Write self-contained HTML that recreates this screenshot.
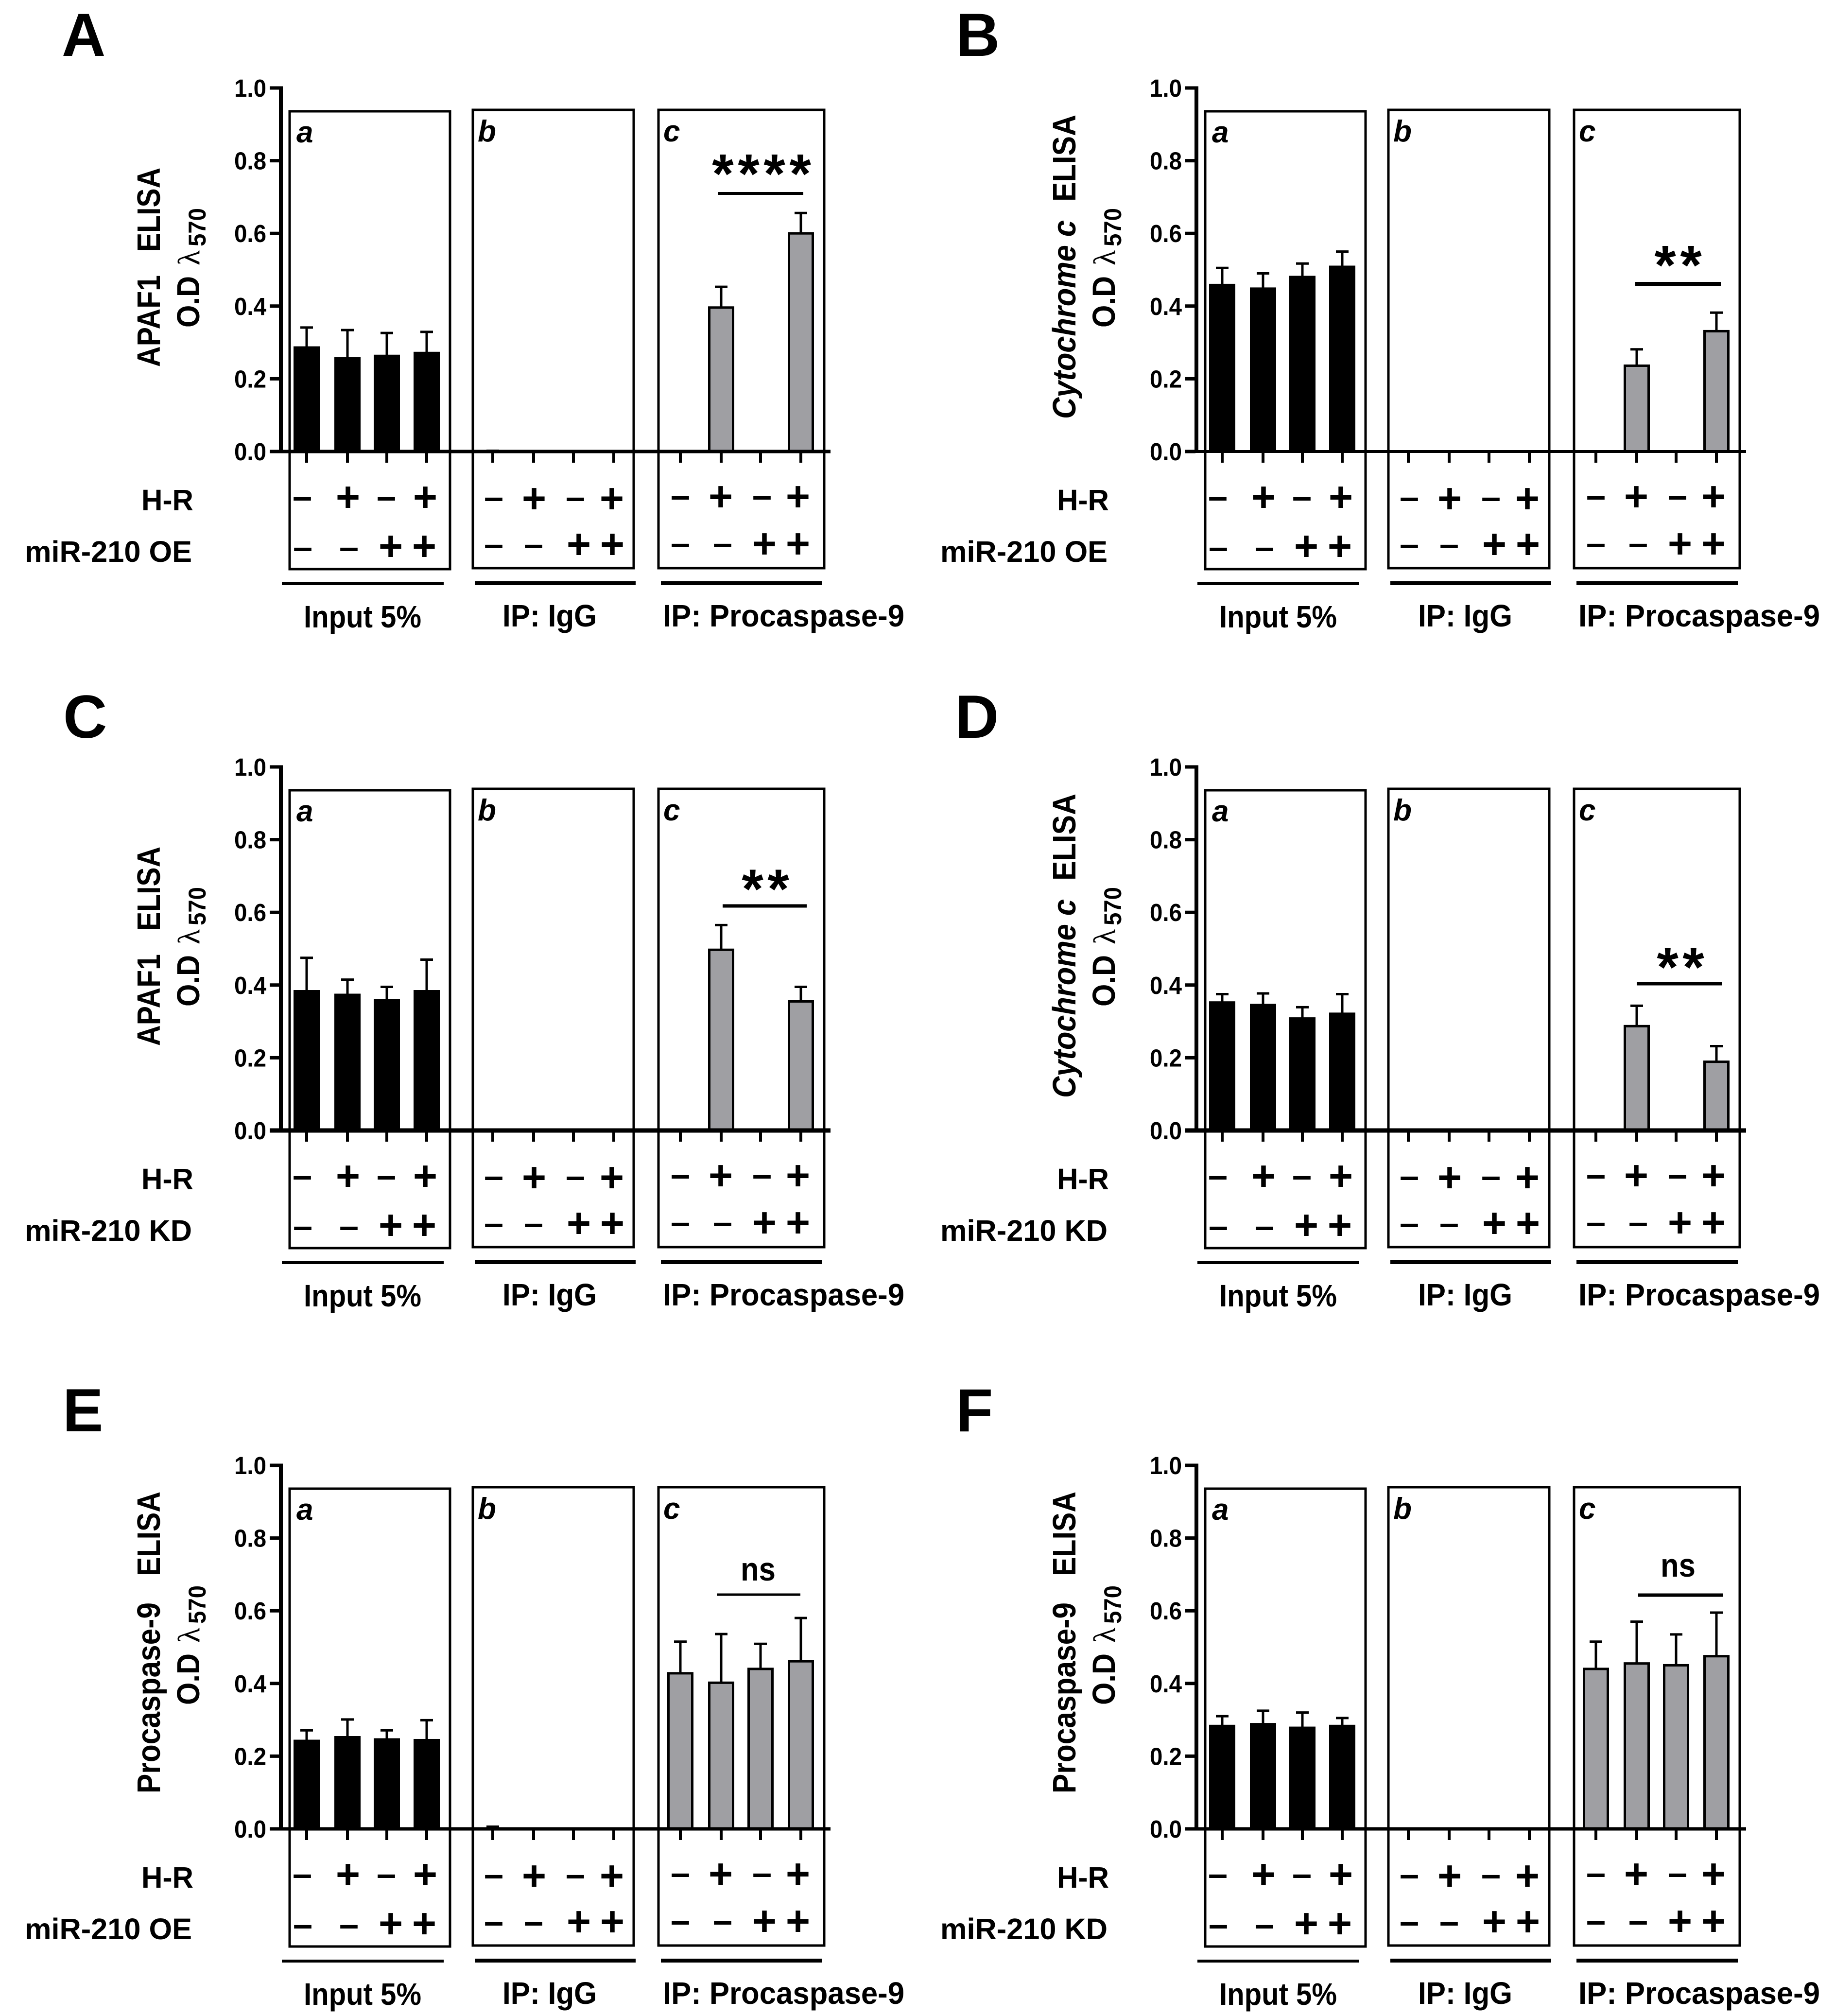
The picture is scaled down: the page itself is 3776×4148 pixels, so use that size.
<!DOCTYPE html>
<html lang="en">
<head>
<meta charset="utf-8">
<title>ELISA bar charts A–F</title>
<style>
html,body{margin:0;padding:0;background:#fff}
svg{display:block}
text{font-family:"Liberation Sans",Arial,sans-serif;fill:#000}
</style>
</head>
<body>
<svg id="figure" xmlns="http://www.w3.org/2000/svg" width="3776" height="4148" viewBox="0 0 3776 4148"></svg>
<script>
// ---- chart data ----
const yTickValues = [0, 0.2, 0.4, 0.6, 0.8, 1.0];
const groupNames = ['Input 5%', 'IP: IgG', 'IP: Procaspase-9'];
const hrSigns = ['-', '+', '-', '+'];
const mirSigns = ['-', '-', '+', '+'];

const inputMeansA = [0.288, 0.258, 0.265, 0.273];
const inputErrorsA = [0.053, 0.076, 0.061, 0.056];
const iggMeansA = [0, 0, 0, 0];
const iggErrorsA = [0.002, 0, 0, 0];
const ipMeansA = [0, 0.396, 0, 0.6];
const ipErrorsA = [0, 0.057, 0, 0.056];

const inputMeansB = [0.46, 0.45, 0.482, 0.51];
const inputErrorsB = [0.045, 0.04, 0.035, 0.04];
const iggMeansB = [0, 0, 0, 0];
const iggErrorsB = [0, 0, 0, 0];
const ipMeansB = [0, 0.236, 0, 0.331];
const ipErrorsB = [0, 0.045, 0, 0.051];

const inputMeansC = [0.385, 0.375, 0.36, 0.385];
const inputErrorsC = [0.09, 0.04, 0.035, 0.085];
const iggMeansC = [0, 0, 0, 0];
const iggErrorsC = [0, 0, 0, 0];
const ipMeansC = [0, 0.497, 0, 0.355];
const ipErrorsC = [0, 0.068, 0, 0.04];

const inputMeansD = [0.354, 0.347, 0.31, 0.323];
const inputErrorsD = [0.021, 0.03, 0.029, 0.052];
const iggMeansD = [0, 0, 0, 0];
const iggErrorsD = [0, 0, 0, 0];
const ipMeansD = [0, 0.287, 0, 0.189];
const ipErrorsD = [0, 0.056, 0, 0.043];

const inputMeansE = [0.244, 0.254, 0.248, 0.246];
const inputErrorsE = [0.027, 0.047, 0.023, 0.053];
const iggMeansE = [0, 0, 0, 0];
const iggErrorsE = [0.006, 0, 0, 0];
const ipMeansE = [0.428, 0.402, 0.44, 0.461];
const ipErrorsE = [0.087, 0.134, 0.069, 0.119];

const inputMeansF = [0.285, 0.29, 0.28, 0.285];
const inputErrorsF = [0.025, 0.035, 0.04, 0.02];
const iggMeansF = [0, 0, 0, 0];
const iggErrorsF = [0, 0, 0, 0];
const ipMeansF = [0.44, 0.455, 0.45, 0.475];
const ipErrorsF = [0.075, 0.115, 0.085, 0.12];

// ---- panel configuration (layout, not data) ----
const apafTitle = [{t:'APAF1', bottom:755, len:189, italic:false}, {t:'ELISA', bottom:518, len:173, italic:false}];
const cytoTitle = [{t:'Cytochrome c', bottom:862, len:409, italic:true}, {t:'ELISA', bottom:415, len:179, italic:false}];
const procTitle = [{t:'Procaspase-9', bottom:856, len:393, italic:false}, {t:'ELISA', bottom:409, len:174, italic:false}];

const panels = [
 {id:'A', dx:0, dy:0, lx:127, ly:115, treat:'miR-210 OE', title:apafTitle, axisW:7,
  input:inputMeansA, inputErr:inputErrorsA, igg:iggMeansA, iggErr:iggErrorsA, ip:ipMeansA, ipErr:ipErrorsA,
  sig:{label:'****', x1:1478, x2:1653, y:398, sw:6, cx:1567, base:396.5}},
 {id:'B', dx:1884, dy:0, lx:1967, ly:115, treat:'miR-210 OE', title:cytoTitle, axisW:6,
  input:inputMeansB, inputErr:inputErrorsB, igg:iggMeansB, iggErr:iggErrorsB, ip:ipMeansB, ipErr:ipErrorsB,
  sig:{label:'**', x1:3365, x2:3541, y:584, sw:8, cx:3453, base:584.5}},
 {id:'C', dx:0, dy:1397, lx:130, ly:1518, treat:'miR-210 KD', title:apafTitle, axisW:9,
  input:inputMeansC, inputErr:inputErrorsC, igg:iggMeansC, iggErr:iggErrorsC, ip:ipMeansC, ipErr:ipErrorsC,
  sig:{label:'**', x1:1487, x2:1660, y:1864, sw:7, cx:1575, base:1868}},
 {id:'D', dx:1884, dy:1397, lx:1965, ly:1518, treat:'miR-210 KD', title:cytoTitle, axisW:9,
  input:inputMeansD, inputErr:inputErrorsD, igg:iggMeansD, iggErr:iggErrorsD, ip:ipMeansD, ipErr:ipErrorsD,
  sig:{label:'**', x1:3368, x2:3544, y:2024, sw:7, cx:3458, base:2029}},
 {id:'E', dx:0, dy:2834, lx:129, ly:2945, treat:'miR-210 OE', title:procTitle, axisW:7,
  input:inputMeansE, inputErr:inputErrorsE, igg:iggMeansE, iggErr:iggErrorsE, ip:ipMeansE, ipErr:ipErrorsE,
  sig:{label:'ns', x1:1475, x2:1647, y:3281, sw:5, cx:1560, base:3252}},
 {id:'F', dx:1884, dy:2834, lx:1967, ly:2945, treat:'miR-210 KD', title:procTitle, axisW:7,
  input:inputMeansF, inputErr:inputErrorsF, igg:iggMeansF, iggErr:iggErrorsF, ip:ipMeansF, ipErr:ipErrorsF,
  sig:{label:'ns', x1:3371, x2:3545, y:3282, sw:7, cx:3453, base:3244}}
];

// layout of the three boxes (base coordinates for panel A)
const Y_TOP = 181, Y_ZERO = 929, AXIS_X = 578, AXIS_END = 1709;
const boxLayouts = [
 {key:'input', letter:'a', x:596, top:229, w:330, bottom:1171, letterX:610, centers:[631,715,796,878], barW:52, gray:false, sw:5,
  hrX:[622,716,795,875], mirX:[623,718,804,873],
  hrMinusY:1026, hrPlusY:1023, mirMinusY:1130, mirPlusY:1124,
  lineX1:580, lineX2:913, lineY:1201, lineW:6, labelX:625, labelW:242, labelBase:1291},
 {key:'igg', letter:'b', x:973, top:226, w:331, bottom:1169, letterX:983, centers:[1014,1098,1180,1263], barW:48, gray:false, sw:5,
  hrX:[1016,1099,1184,1259], mirX:[1016,1098,1191,1260],
  hrMinusY:1027, hrPlusY:1026, mirMinusY:1124, mirPlusY:1120,
  lineX1:977, lineX2:1308, lineY:1200, lineW:8, labelX:1034, labelW:194, labelBase:1289},
 {key:'ip', letter:'c', x:1355, top:226, w:341, bottom:1169, letterX:1365, centers:[1400,1484,1565,1648], barW:49, gray:true, sw:5,
  hrX:[1400,1483,1568,1642], mirX:[1400,1487,1573,1642],
  hrMinusY:1024, hrPlusY:1022, mirMinusY:1122, mirPlusY:1119,
  lineX1:1360, lineX2:1692, lineY:1200, lineW:8, labelX:1364, labelW:497, labelBase:1289}
];

const NS = 'http://www.w3.org/2000/svg';
const figure = document.getElementById('figure');

function makeLine(parent, x1, y1, x2, y2, sw) {
  const el = document.createElementNS(NS, 'line');
  el.setAttribute('x1', x1);
  el.setAttribute('y1', y1);
  el.setAttribute('x2', x2);
  el.setAttribute('y2', y2);
  el.setAttribute('stroke', '#000');
  el.setAttribute('stroke-width', sw);
  parent.appendChild(el);
  return el;
}
function makeRect(parent, x, y, w, h, fill, stroke, sw) {
  const el = document.createElementNS(NS, 'rect');
  el.setAttribute('x', x);
  el.setAttribute('y', y);
  el.setAttribute('width', w);
  el.setAttribute('height', h);
  el.setAttribute('fill', fill);
  el.setAttribute('stroke', stroke);
  el.setAttribute('stroke-width', sw);
  parent.appendChild(el);
  return el;
}
function makeText(parent, str, x, y, size, opts) {
  const o = opts || {};
  const el = document.createElementNS(NS, 'text');
  el.setAttribute('x', x);
  el.setAttribute('y', y);
  el.setAttribute('font-size', size);
  el.setAttribute('font-weight', o.weight || 'bold');
  if (o.italic) el.setAttribute('font-style', 'italic');
  if (o.anchor) el.setAttribute('text-anchor', o.anchor);
  if (o.family) el.setAttribute('style', 'font-family:' + o.family);
  if (o.spacing) el.setAttribute('letter-spacing', o.spacing);
  if (o.len) {
    el.setAttribute('textLength', o.len);
    el.setAttribute('lengthAdjust', 'spacingAndGlyphs');
  }
  if (o.transform) el.setAttribute('transform', o.transform);
  el.textContent = str;
  parent.appendChild(el);
  return el;
}
function makeGroup(parent) {
  const el = document.createElementNS(NS, 'g');
  parent.appendChild(el);
  return el;
}

function yScale(p, v) {
  const zero = Y_ZERO + p.dy;
  const top = Y_TOP + p.dy;
  return zero - v * (zero - top);
}
function xShift(p, x) {
  return x + p.dx;
}

function drawBars(g, p, box, means, errors) {
  const zero = yScale(p, 0);
  means.forEach(function (m, i) {
    const cx = xShift(p, box.centers[i]);
    const yTop = yScale(p, m);
    const yErr = yScale(p, m + errors[i]);
    const stem = makeLine(g, cx, yTop, cx, yErr, 5);
    
    
    const cap = makeLine(g, cx - 13, yErr, cx + 13, yErr, 5);
    
    
    const fill = box.gray ? '#9f9fa3' : '#000';
    const bar = makeRect(g, cx - box.barW / 2, yTop, box.barW, zero - yTop, fill, '#000', box.gray ? 5 : 2);
    
    
  });
}

function drawSign(g, p, sign, x, minusY, plusY) {
  if (sign === '+') {
    const el = makeText(g, '+', xShift(p, x), plusY + p.dy + 29, 86, {anchor:'middle'});
    
    
  } else {
    const el = makeText(g, '\u2013', xShift(p, x), minusY + p.dy + 20, 72, {anchor:'middle'});
    
    
  }
}

panels.forEach(function (p) {
  const g = makeGroup(figure);
  
  

  const letter = makeText(g, p.id, p.lx, p.ly, 125);
  
  

  // y-axis title (rotated)
  const titleX = 329 + p.dx;
  p.title.forEach(function (part) {
    const by = part.bottom + p.dy;
    const t = makeText(g, part.t, 0, 0, 67, {italic:part.italic, len:part.len, transform:'translate(' + titleX + ' ' + by + ') rotate(-90)'});
    
    
  });
  const odX = 410 + p.dx;
  const odY = 674 + p.dy;
  const od = makeText(g, 'O.D', 0, 0, 66, {len:106, transform:'translate(' + odX + ' ' + odY + ') rotate(-90)'});
  
  
  const lamY = 546 + p.dy;
  const lam = makeText(g, '\u03bb', 0, 0, 64, {weight:'normal', family:'"Liberation Serif",serif', transform:'translate(' + odX + ' ' + lamY + ') rotate(-90)'});
  
  
  const subX = 423 + p.dx;
  const subY = 507 + p.dy;
  const sub = makeText(g, '570', 0, 0, 50, {len:79, transform:'translate(' + subX + ' ' + subY + ') rotate(-90)'});
  
  

  // boxes, bars, labels
  boxLayouts.forEach(function (box) {
    const means = box.key === 'input' ? p.input : box.key === 'igg' ? p.igg : p.ip;
    const errs = box.key === 'input' ? p.inputErr : box.key === 'igg' ? p.iggErr : p.ipErr;
    const frame = makeRect(g, xShift(p, box.x), box.top + p.dy, box.w, box.bottom - box.top, 'none', '#000', box.sw);
    
    
    const boxLetter = makeText(g, box.letter, xShift(p, box.letterX), 293 + p.dy - (box.letter === 'a' ? 0 : 2), 62, {italic:true});
    
    
    drawBars(g, p, box, means, errs);
    box.centers.forEach(function (c) {
      const tick = makeLine(g, xShift(p, c), Y_ZERO + p.dy, xShift(p, c), 952 + p.dy, 6);
      
      
    });
    hrSigns.forEach(function (s, i) {
      drawSign(g, p, s, box.hrX[i], box.hrMinusY, box.hrPlusY);
    });
    mirSigns.forEach(function (s, i) {
      drawSign(g, p, s, box.mirX[i], box.mirMinusY, box.mirPlusY);
    });
    const rule = makeLine(g, xShift(p, box.lineX1), box.lineY + p.dy, xShift(p, box.lineX2), box.lineY + p.dy, box.lineW);
    
    
    const groupIndex = box.key === 'input' ? 0 : box.key === 'igg' ? 1 : 2;
    const label = makeText(g, groupNames[groupIndex], xShift(p, box.labelX), box.labelBase + p.dy, 64, {len:box.labelW});
    
    
  });

  // axes
  const yAxis = makeLine(g, xShift(p, AXIS_X), Y_TOP + p.dy - 3.5, xShift(p, AXIS_X), Y_ZERO + p.dy, 8);
  
  
  const xAxis = makeLine(g, xShift(p, 555), Y_ZERO + p.dy, xShift(p, AXIS_END), Y_ZERO + p.dy, p.axisW);
  
  
  yTickValues.forEach(function (v) {
    const y = yScale(p, v);
    const tick = makeLine(g, xShift(p, 555), y, xShift(p, 576), y, 7);
    
    
    const lab = makeText(g, v.toFixed(1), xShift(p, 548), y + 18, 51, {anchor:'end', len:66});
    
    
  });

  // row labels
  const hr = makeText(g, 'H-R', xShift(p, 291), 1050 + p.dy, 61, {len:107});
  
  
  const treat = makeText(g, p.treat, xShift(p, 51), 1156 + p.dy, 61, {len:344});
  
  

  // significance marker
  const sigLine = makeLine(g, p.sig.x1, p.sig.y, p.sig.x2, p.sig.y, p.sig.sw);
  
  
  if (p.sig.label === 'ns') {
    const nsText = makeText(g, p.sig.label, p.sig.cx, p.sig.base, 68, {anchor:'middle', len:72});
    
    
  } else {
    const starText = makeText(g, p.sig.label, p.sig.cx + 4.4, p.sig.base, 114, {anchor:'middle', spacing:8.7});
    
    
  }
});
</script>
</body>
</html>
